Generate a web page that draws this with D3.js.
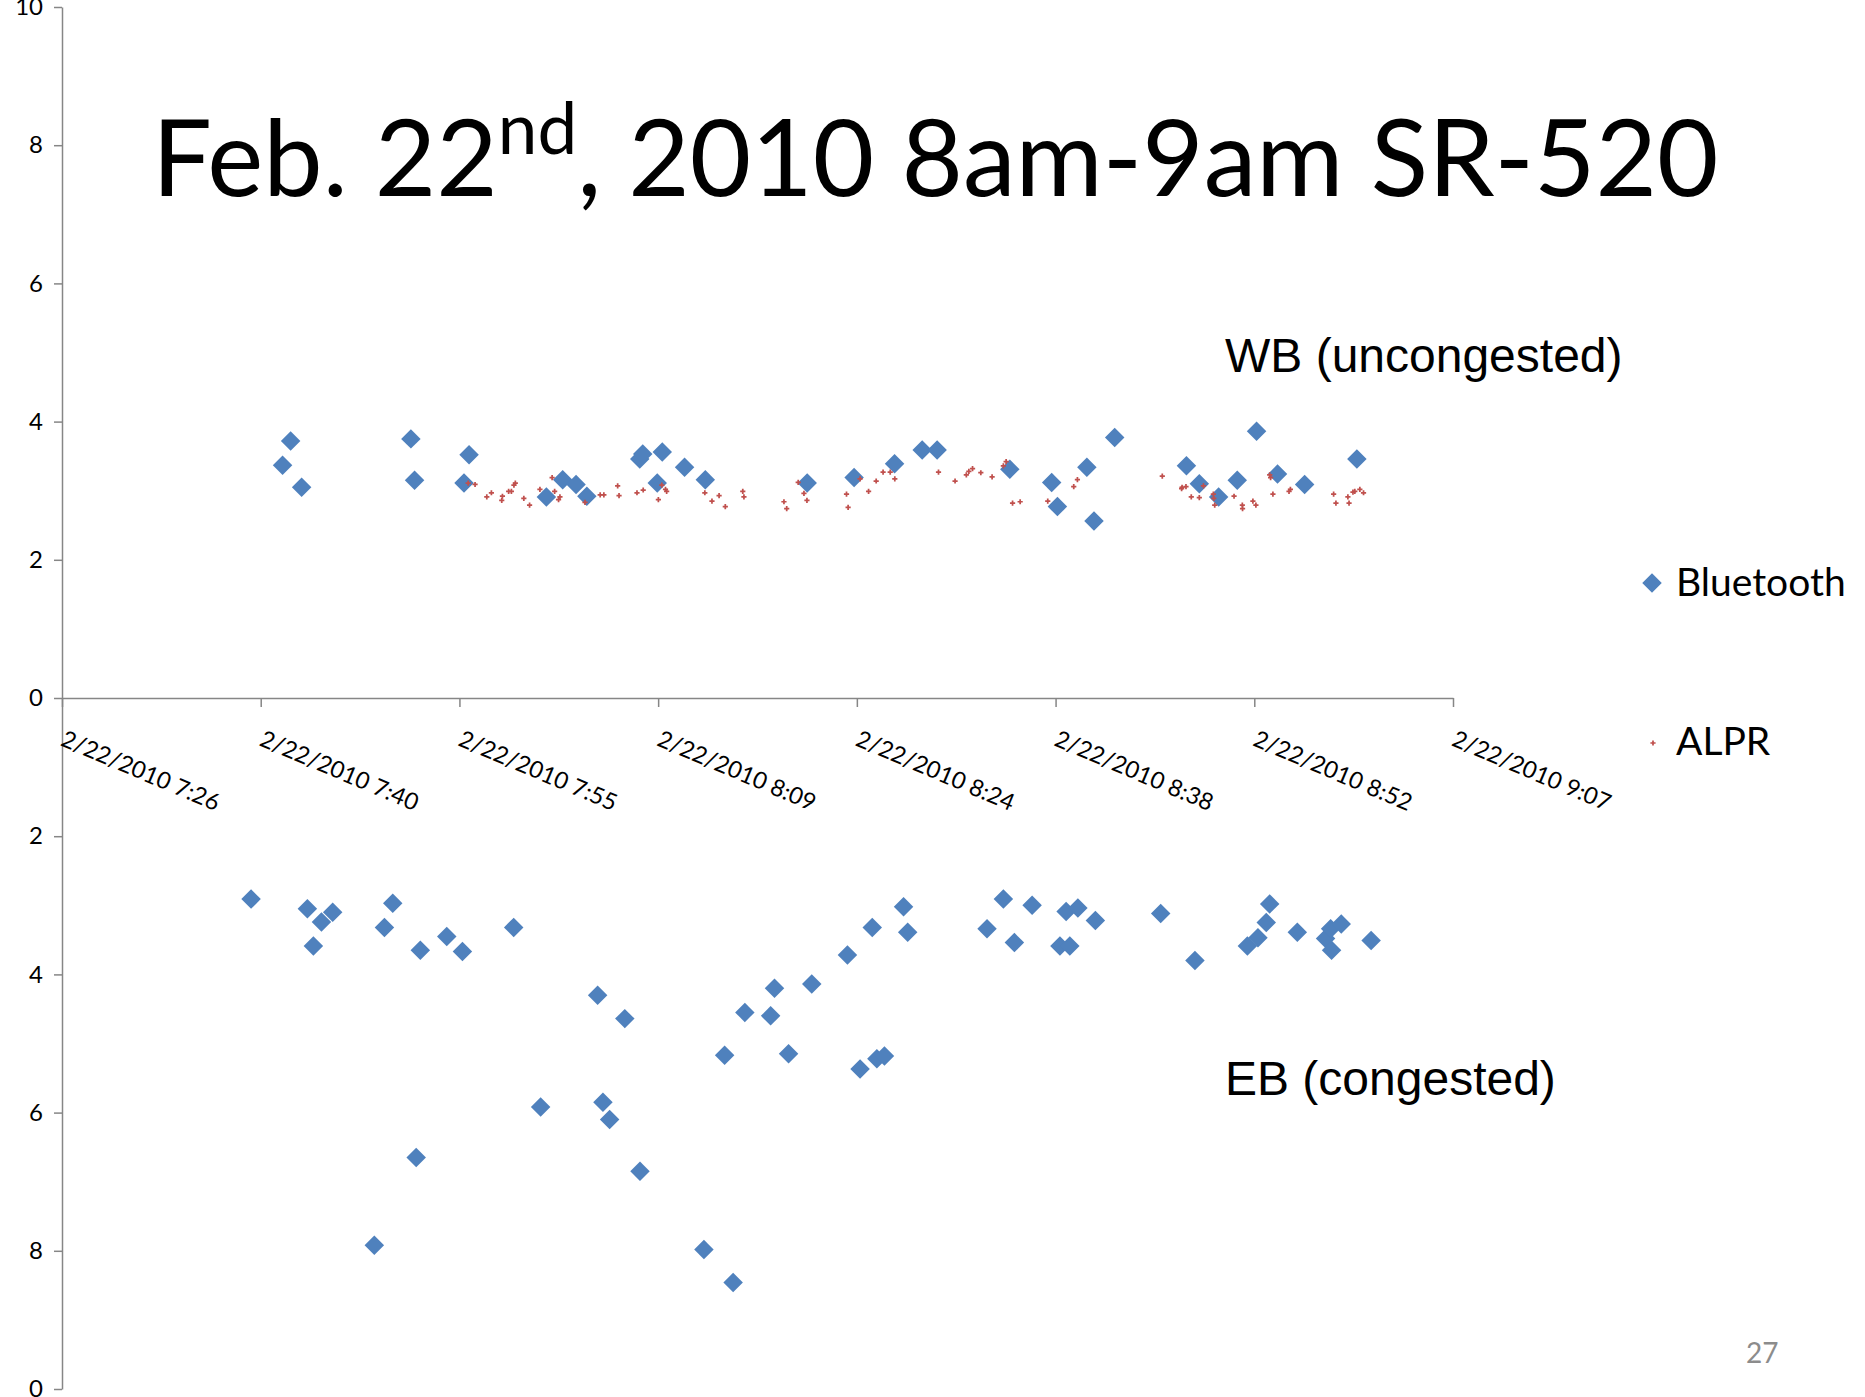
<!DOCTYPE html>
<html>
<head>
<meta charset="utf-8">
<script src="https://cdnjs.cloudflare.com/ajax/libs/d3/7.8.5/d3.min.js"></script>
<style>
  body { margin: 0; background: #fff; }
  svg { display: block; }
</style>
</head>
<body>
<script>
// x axis ticks (Excel date axis, one tick every 0.01 day)
var xTickTimes = ["7:26:24","7:40:48","7:55:12","8:09:36","8:24:00","8:38:24","8:52:48","9:07:12"];
var xTickLabels = ["2/22/2010 7:26","2/22/2010 7:40","2/22/2010 7:55","2/22/2010 8:09",
                   "2/22/2010 8:24","2/22/2010 8:38","2/22/2010 8:52","2/22/2010 9:07"];
var yTopTicks = [0,2,4,6,8,10];
var yTopLabels = ["0","2","4","6","8","10"];
var yBotTicks = [2,4,6,8,10];
var yBotLabels = ["2","4","6","8","0"];

// WB (uncongested) - Bluetooth
var wbBtTimes = ["7:42:23","7:42:58","7:43:46","7:51:41","7:51:57","7:55:32","7:55:54","8:01:30","8:02:41","8:03:39",
                 "8:04:26","8:08:16","8:08:29","8:09:32","8:09:54","8:11:31","8:13:01","8:20:24","8:23:48","8:26:44",
                 "8:28:44","8:29:49","8:35:05","8:38:07","8:38:32","8:40:40","8:41:11","8:42:41","8:47:53","8:48:49",
                 "8:50:13","8:51:34","8:52:58","8:54:29","8:56:27","9:00:14"];
var wbBtValues = [3.37,3.72,3.05,3.75,3.15,3.11,3.52,2.91,3.16,3.09,
                  2.92,3.46,3.53,3.11,3.56,3.34,3.16,3.11,3.19,3.39,
                  3.59,3.59,3.31,3.12,2.77,3.34,2.56,3.77,3.36,3.10,
                  2.91,3.15,3.86,3.24,3.09,3.46];

// WB (uncongested) - ALPR
var wbAlprTimes = ["7:55:50","7:56:20","7:57:11","7:57:31","7:58:16","7:58:19","7:58:46","7:58:58","7:59:09","7:59:15",
                   "7:59:52","8:00:17","8:01:02","8:01:55","8:02:06","8:02:23","8:02:29","8:04:18","8:05:24","8:05:40",
                   "8:06:40","8:06:46","8:08:04","8:08:31","8:09:37","8:09:52","8:10:08","8:10:13","8:12:59","8:13:30",
                   "8:14:01","8:14:28","8:15:44","8:15:49","8:18:43","8:18:55","8:19:45","8:20:10","8:20:23","8:23:15",
                   "8:23:22","8:24:14","8:24:51","8:25:24","8:25:54","8:26:25","8:26:45","8:29:55","8:31:07","8:31:56",
                   "8:32:07","8:32:23","8:32:59","8:33:48","8:34:37","8:34:49","8:35:17","8:35:50","8:37:50","8:39:43",
                   "8:39:59","8:46:08","8:47:32","8:47:34","8:47:51","8:48:14","8:48:49","8:49:07","8:49:50","8:49:52",
                   "8:49:56","8:51:20","8:51:56","8:51:57","8:52:42","8:52:55","8:53:55","8:53:59","8:54:09","8:55:19",
                   "8:55:25","8:58:33","8:58:43","8:59:35","8:59:40","8:59:57","9:00:05","9:00:27","9:00:43"];
var wbAlprValues = [3.11,3.09,2.91,2.97,2.86,2.92,2.99,2.99,3.08,3.11,
                    2.89,2.79,3.02,3.19,2.99,2.87,2.91,2.83,2.94,2.94,
                    3.07,2.93,2.97,3.01,2.87,3.08,3.02,2.99,2.97,2.85,
                    2.93,2.77,2.99,2.91,2.84,2.74,3.12,2.96,2.86,2.95,
                    2.76,3.17,2.99,3.14,3.27,3.27,3.17,3.27,3.14,3.23,
                    3.28,3.32,3.26,3.20,3.36,3.42,2.82,2.84,2.85,3.06,
                    3.16,3.21,3.03,3.05,3.06,2.91,2.90,3.07,2.95,2.89,
                    2.79,2.92,2.79,2.74,2.85,2.79,3.23,3.19,2.95,2.99,
                    3.02,2.95,2.82,2.91,2.82,2.98,2.99,3.02,2.97];

// EB (congested) - Bluetooth, drawn on the inverted lower axis
var ebBtTimes = ["7:40:06","7:44:11","7:44:37","7:45:12","7:46:01","7:49:02","7:49:46","7:50:22","7:52:04","7:52:22",
                 "7:54:17","7:55:25","7:59:08","8:01:05","8:05:13","8:05:36","8:06:05","8:07:11","8:08:17","8:12:55",
                 "8:14:25","8:15:02","8:15:53","8:17:45","8:18:02","8:19:03","8:20:44","8:23:19","8:24:14","8:25:07",
                 "8:25:27","8:26:00","8:27:23","8:27:41","8:33:26","8:34:37","8:35:25","8:36:42","8:38:43","8:39:10",
                 "8:39:26","8:40:01","8:41:17","8:46:01","8:48:30","8:52:18","8:53:04","8:53:40","8:53:55","8:55:55",
                 "8:57:58","8:58:20","8:58:24","8:59:06","9:01:16"];
var ebBtValues = [2.91,3.05,3.59,3.24,3.10,7.92,3.32,2.97,6.65,3.65,
                  3.45,3.67,3.32,5.92,4.30,5.85,6.10,4.64,6.85,7.98,
                  5.17,8.46,4.55,4.60,4.20,5.15,4.14,3.72,5.37,3.32,
                  5.22,5.18,3.02,3.39,3.34,2.91,3.54,3.00,3.59,3.09,
                  3.59,3.04,3.22,3.12,3.80,3.59,3.47,3.25,2.98,3.39,
                  3.48,3.34,3.65,3.27,3.51];

var W = 1865, H = 1397;
var btColor = "#4F81BD", alprColor = "#C0504D", axisColor = "#868686";
var parseT = d3.timeParse("%H:%M:%S");

var svg = d3.select("body").append("svg")
    .attr("width", W)
    .attr("height", H);

var x = d3.scaleTime()
    .domain([parseT(xTickTimes[0]), parseT(xTickTimes[xTickTimes.length - 1])])
    .range([62, 1453]);
var yTop = d3.scaleLinear().domain([0, 10]).range([698, 7]);
var yBot = d3.scaleLinear().domain([0, 10]).range([698, 1389]);

function styleAxis(g){
    g.selectAll(".domain").attr("stroke", axisColor).attr("stroke-width", 1.5);
    g.selectAll(".tick line").attr("stroke", axisColor).attr("stroke-width", 1.5);
    g.selectAll("text").attr("fill", "#000")
        .style("font-family", "Lato, 'Open Sans', sans-serif");
}

// left axes (upper chart counts up, lower chart counts down)
var gTop = svg.append("g")
    .attr("transform", "translate(62,0)")
    .call(d3.axisLeft(yTop).tickValues(yTopTicks)
        .tickFormat(function(d, i){ return yTopLabels[i]; })
        .tickSize(8).tickPadding(11).tickSizeOuter(0));
var gBot = svg.append("g")
    .attr("transform", "translate(62,0)")
    .call(d3.axisLeft(yBot).tickValues(yBotTicks)
        .tickFormat(function(d, i){ return yBotLabels[i]; })
        .tickSize(8).tickPadding(11).tickSizeOuter(0));
[gTop, gBot].forEach(function(g){
    styleAxis(g);
    g.selectAll("text").style("font-size", "24px");
});

// time axis
var gX = svg.append("g")
    .attr("transform", "translate(0,698)")
    .call(d3.axisBottom(x).tickValues(xTickTimes.map(parseT))
        .tickFormat(function(d, i){ return xTickLabels[i]; })
        .tickSize(9).tickSizeOuter(0));
styleAxis(gX);
gX.selectAll("text")
    .style("font-size", "23.5px")
    .attr("text-anchor", "start")
    .attr("x", 0).attr("y", 0).attr("dy", 0)
    .attr("transform", "translate(-3,47) rotate(23)");

// marks
var diamond = d3.symbol().type(d3.symbolSquare).size(190);
var cross = d3.symbol().type(d3.symbolCross).size(15);

svg.append("g").selectAll("path")
    .data(wbBtTimes)
    .enter().append("path")
    .attr("d", diamond)
    .attr("fill", btColor)
    .attr("transform", function(d, i){
        return "translate(" + x(parseT(d)) + "," + yTop(wbBtValues[i]) + ") rotate(45)";
    });

svg.append("g").selectAll("path")
    .data(ebBtTimes)
    .enter().append("path")
    .attr("d", diamond)
    .attr("fill", btColor)
    .attr("transform", function(d, i){
        return "translate(" + x(parseT(d)) + "," + yBot(ebBtValues[i]) + ") rotate(45)";
    });

svg.append("g").selectAll("path")
    .data(wbAlprTimes)
    .enter().append("path")
    .attr("d", cross)
    .attr("fill", alprColor)
    .attr("transform", function(d, i){
        return "translate(" + x(parseT(d)) + "," + yTop(wbAlprValues[i]) + ")";
    });

// title
var title = svg.append("text")
    .attr("x", 152).attr("y", 196)
    .style("font-family", "Lato, 'Open Sans', sans-serif")
    .style("font-size", "106px")
    .attr("fill", "#000");
title.append("tspan").text("Feb. 22");
title.append("tspan").text("nd").style("font-size", "71px").attr("dy", -42);
title.append("tspan").text(", 2010 8am-9am SR-520").attr("dy", 42);

// direction labels
svg.append("text")
    .attr("x", 1225).attr("y", 372)
    .style("font-family", "'Liberation Sans', Arial, sans-serif")
    .style("font-size", "48px")
    .text("WB (uncongested)");
svg.append("text")
    .attr("x", 1225).attr("y", 1095)
    .style("font-family", "'Liberation Sans', Arial, sans-serif")
    .style("font-size", "48px")
    .text("EB (congested)");

// legend
var legend = svg.append("g").style("font-family", "Lato, 'Open Sans', sans-serif").style("font-size", "39px");
legend.append("path").attr("d", diamond).attr("fill", btColor)
    .attr("transform", "translate(1652,583) rotate(45)");
legend.append("text").attr("x", 1676).attr("y", 596).text("Bluetooth");
legend.append("path").attr("d", cross).attr("fill", alprColor)
    .attr("transform", "translate(1653,743)");
legend.append("text").attr("x", 1676).attr("y", 755).text("ALPR");

// slide number
svg.append("text")
    .attr("x", 1746).attr("y", 1363)
    .style("font-family", "Lato, 'Open Sans', sans-serif")
    .style("font-size", "28px")
    .attr("fill", "#8c8c8c")
    .text("27");
</script>
</body>
</html>
